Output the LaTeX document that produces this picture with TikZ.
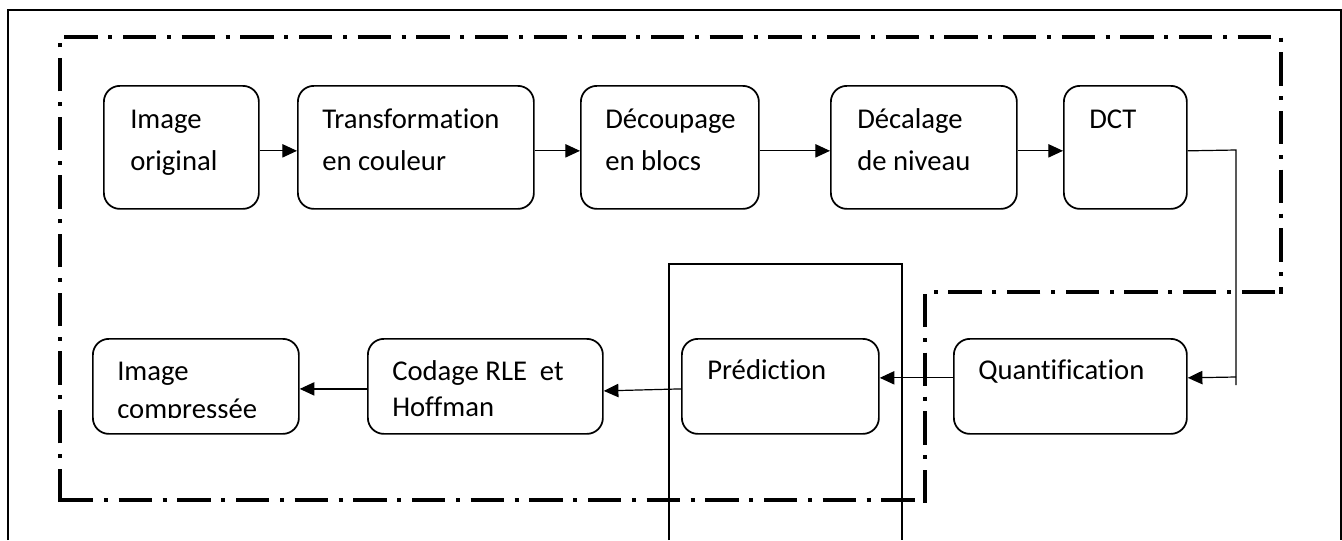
\documentclass[tikz,border=0pt]{standalone}
\usepackage{fontspec}
\setmainfont[RawFeature={-liga;-dlig;-clig}]{Carlito}
\usetikzlibrary{arrows.meta}
\newcommand{\mybox}[5]{\node[box,anchor=north west,minimum width={(#4-#2)*0.75pt},minimum height={(#5-#3)*0.75pt}] (#1) at (#2,#3) {};}
\begin{document}
\begin{tikzpicture}[x=0.75pt,y=-0.75pt,
 box/.style={draw,line width=1.3pt,rounded corners=12pt,inner sep=0pt},
 lbl/.style={anchor=base west,inner sep=0pt,font=\fontsize{21.5}{31}\selectfont},
 conn/.style={line width=0.9pt},
 arr/.style={conn,-{Triangle[length=11pt,width=10pt]}},
 dd/.style={line width=3pt,dash pattern=on 25pt off 8pt on 3pt off 8pt},
 frame/.style={line width=1.6pt}]
\useasboundingbox (0,0) rectangle (1342,540);
% outer frame
\draw[frame] (8,540) -- (8,10) -- (1341,10) -- (1341,540);
% dash-dot boundary
\draw[dd] (60,502) -- (60,37) -- (1281,37) -- (1281,294);
\draw[dd] (1275,292) -- (925,292) -- (925,508);
\draw[dd] (60,500) -- (925,500);
% prediction frame
\draw[frame] (669,540) -- (669,264) -- (902,264) -- (902,540);
% top row boxes
\mybox{io}{103}{85}{258}{208}
\mybox{tr}{297}{85}{533}{208}
\mybox{dec}{580}{85}{758}{208}
\mybox{niv}{830}{85}{1016}{208}
\mybox{dct}{1063}{85}{1186}{208}
% bottom row boxes
\mybox{ic}{92}{338}{298}{433}
\mybox{cod}{367}{338}{602}{433}
\mybox{pred}{681}{338}{878}{433}
\mybox{q}{953}{338}{1186}{433}
% texts
\node[lbl] (io1) at (130,128) {Image};
\node[lbl] (io2) at (130,170) {original};
\node[lbl] (tr1) at (322,128) {Transformation};
\node[lbl] (tr2) at (322,170) {en couleur};
\node[lbl] (dec1) at (605,128) {Découpage};
\node[lbl] (dec2) at (605,170) {en blocs};
\node[lbl] (niv1) at (857,128) {Décalage};
\node[lbl] (niv2) at (857,170) {de niveau};
\node[lbl] (dct1) at (1089,128) {DCT};
\node[lbl] (ic1) at (117,380) {Image};
\begin{scope}
\clip (92,338) rectangle (298,417);
\node[lbl] (ic2) at (117,418) {compressée};
\end{scope}
\node[lbl] (cod1) at (392,380) {Codage RLE\ \ et};
\node[lbl] (cod2) at (392,416) {Hoffman};
\node[lbl] (pred1) at (707,379) {Prédiction};
\node[lbl] (q1) at (978,379) {Quantification};
% connectors
\draw[arr] ([yshift=-2.6pt]io.east) -- ([yshift=-2.6pt]tr.west);
\draw[arr] ([yshift=-2.6pt]tr.east) -- ([yshift=-2.6pt]dec.west);
\draw[arr] ([yshift=-2.6pt]dec.east) -- ([yshift=-2.6pt]niv.west);
\draw[arr] ([yshift=-2.6pt]niv.east) -- ([yshift=-2.6pt]dct.west);
\coordinate (c1) at (1236,150);
\coordinate (c2) at (1236,385);
\coordinate (c3) at (1236,377);
\draw[conn] ([yshift=-2.6pt]dct.east) -- (c1) -- (c2);
\draw[arr] (c3) -- ([yshift=6.4pt]q.east);
\draw[arr] ([yshift=6.4pt]q.west) -- ([yshift=6.4pt]pred.east);
\draw[arr] ([yshift=-1.9pt]pred.west) -- ([yshift=-3.4pt]cod.east);
\draw[arr] ([yshift=-1.9pt]cod.west) -- ([yshift=-1.9pt]ic.east);
\end{tikzpicture}
\end{document}
